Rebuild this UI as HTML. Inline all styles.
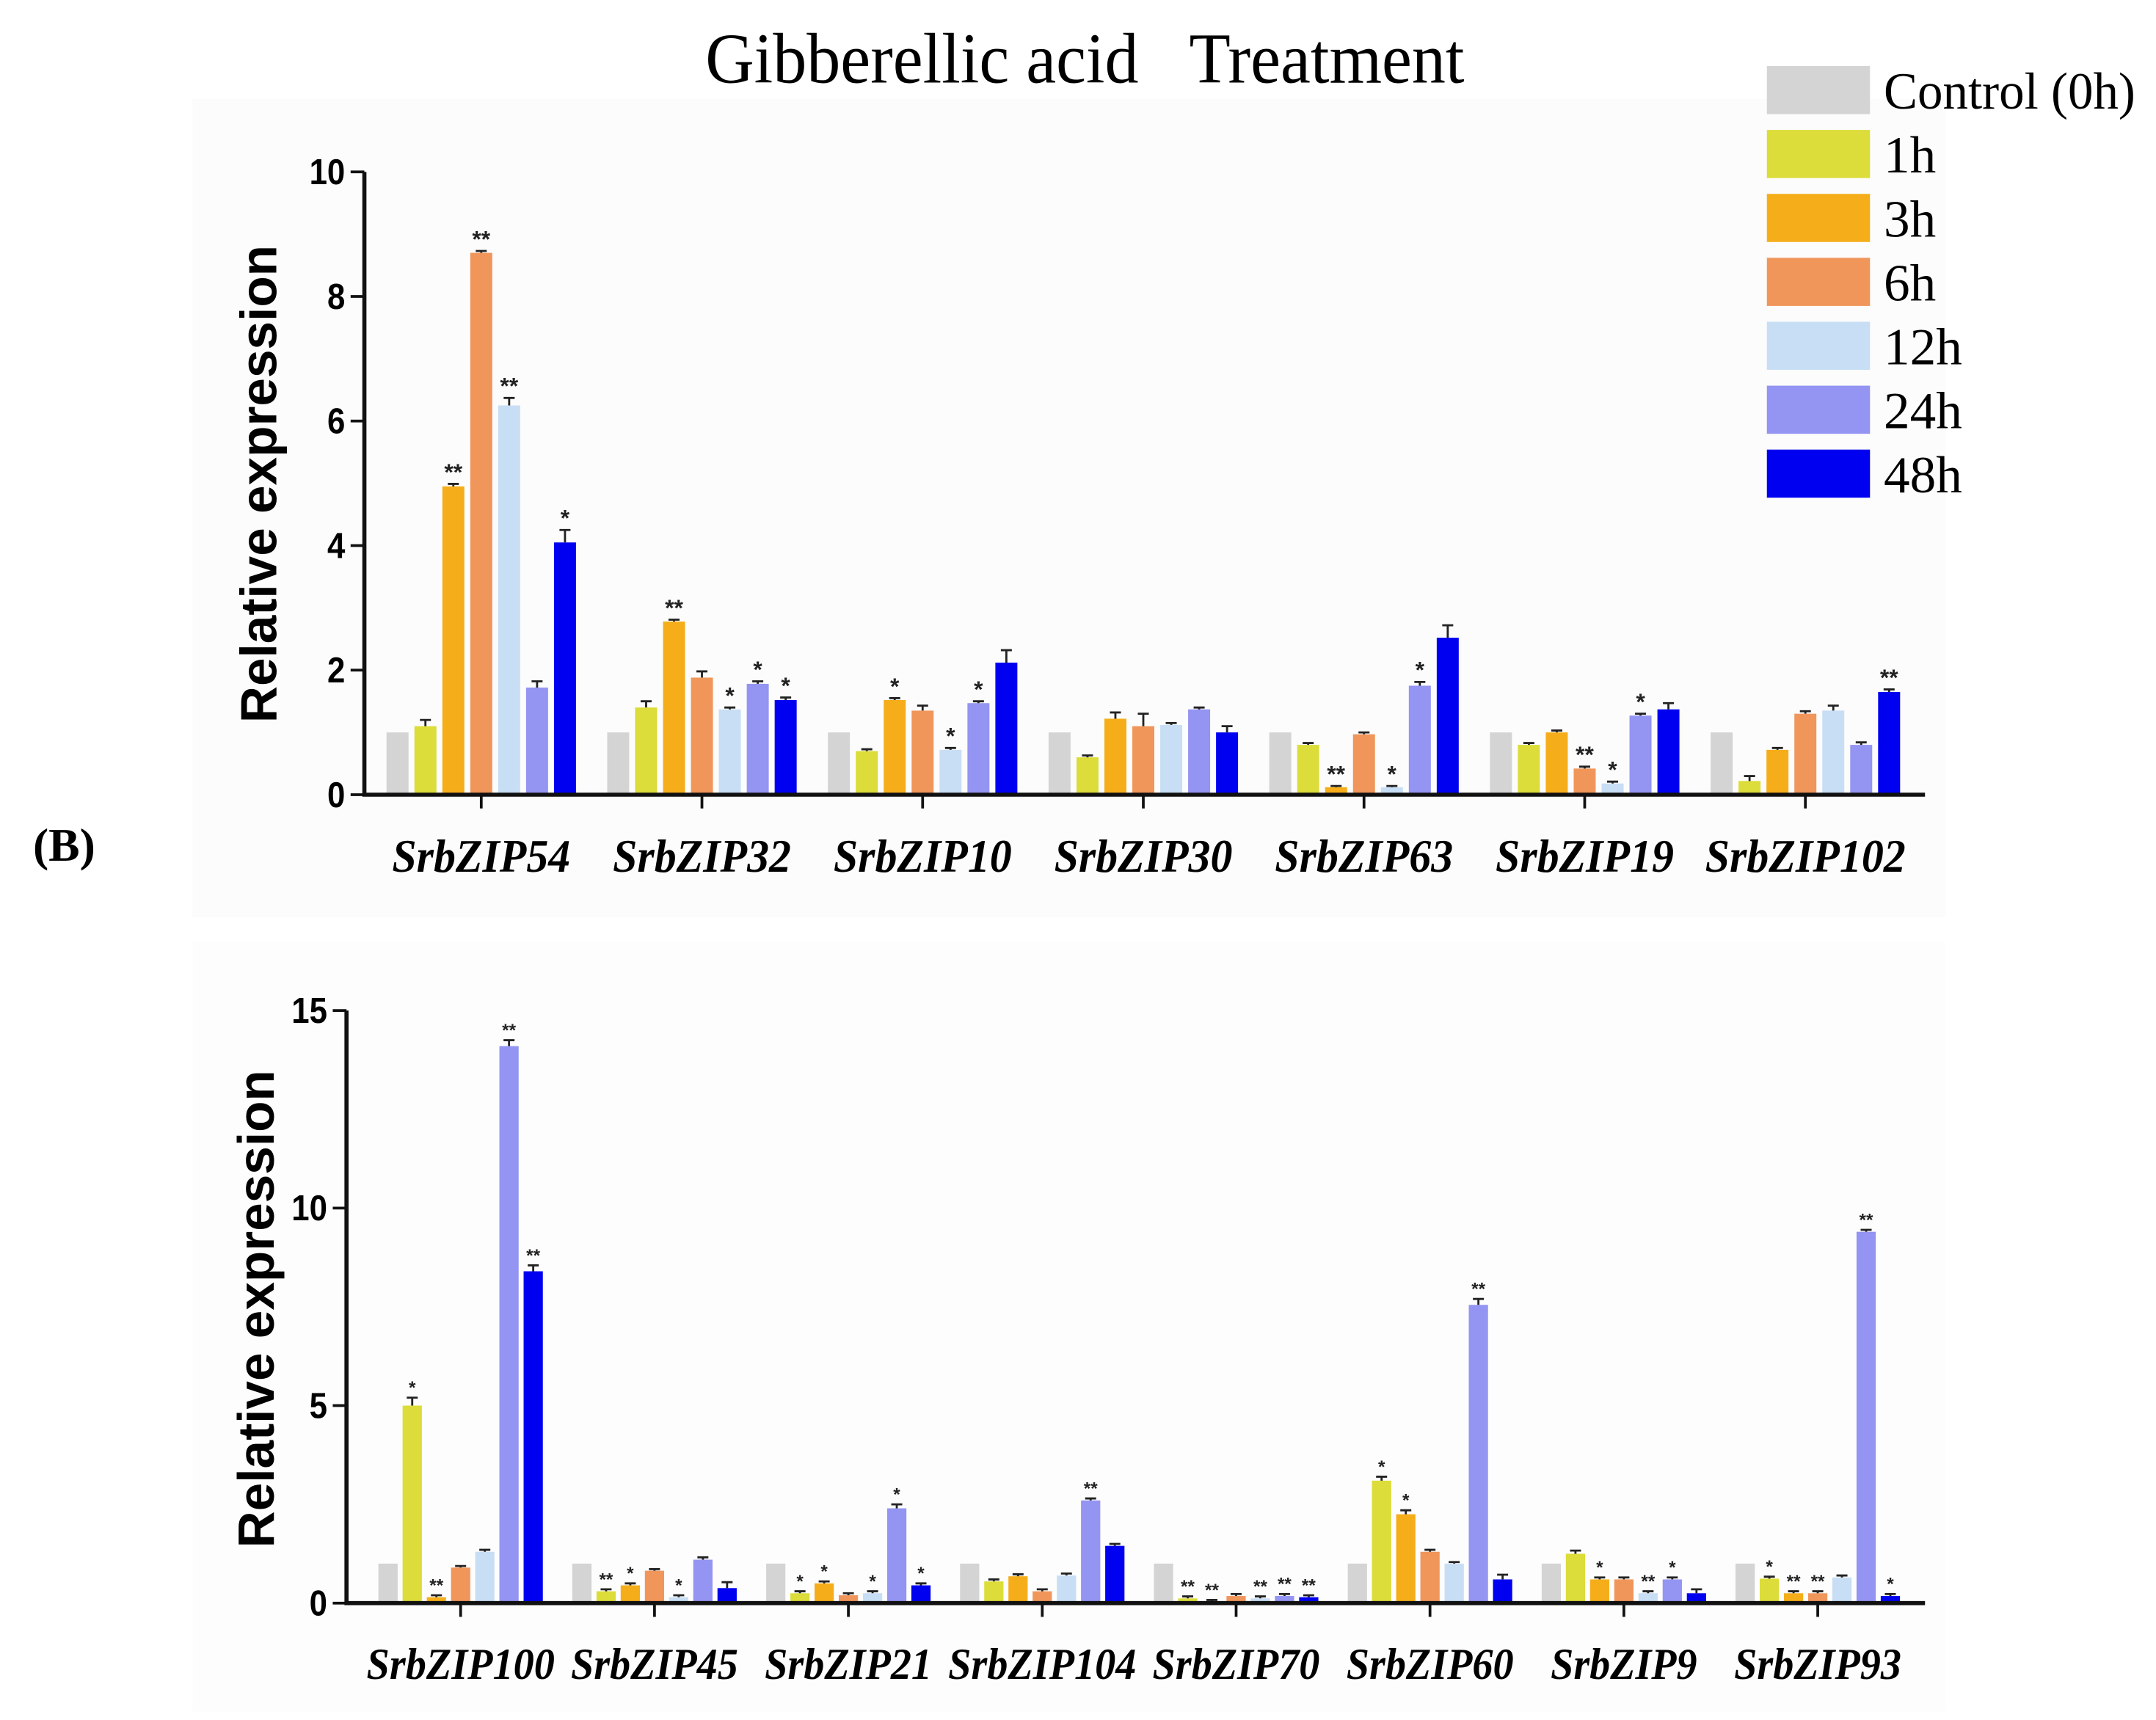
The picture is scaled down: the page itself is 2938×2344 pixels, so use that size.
<!DOCTYPE html>
<html><head><meta charset="utf-8"><style>
html,body{margin:0;padding:0;background:#fff;}
svg{display:block;}
.ax{font-family:"Liberation Sans",sans-serif;font-weight:bold;}
.ser{font-family:"Liberation Serif",serif;}
</style></head><body>
<svg id="chart" width="2938" height="2344" viewBox="0 0 1568 1251" preserveAspectRatio="none">
<rect x="0" y="0" width="1568" height="1251" fill="#fff"/>
<rect x="140" y="72" width="1275" height="595" fill="#fcfcfc"/>
<rect x="140" y="685" width="1275" height="560" fill="#fdfdfd"/>
<text x="513" y="60" textLength="552" lengthAdjust="spacingAndGlyphs" class="ser" font-size="52">Gibberellic acid&#160;&#160;&#160;Treatment</text>
<text x="24" y="626" class="ser" font-size="34" font-weight="bold">(B)</text>
<g id="legend"></g>
<g id="top"></g>
<g id="bottom"></g>
</svg>
<script>
const seriesNames = ["Control (0h)","1h","3h","6h","12h","24h","48h"];
const seriesColors = ["#d4d4d4","#dcdc3a","#f5ae1a","#f0965a","#c8def5","#9494f2","#0000f0"];
const topGenes = ["SrbZIP54","SrbZIP32","SrbZIP10","SrbZIP30","SrbZIP63","SrbZIP19","SrbZIP102"];
const topValues = [
 [1,1.1,4.95,8.7,6.25,1.72,4.05],
 [1,1.4,2.78,1.88,1.37,1.78,1.52],
 [1,0.7,1.52,1.35,0.72,1.47,2.12],
 [1,0.6,1.22,1.1,1.12,1.37,1.0],
 [1,0.8,0.12,0.97,0.12,1.75,2.52],
 [1,0.8,1.0,0.42,0.18,1.27,1.37],
 [1,0.22,0.72,1.3,1.35,0.8,1.65]];
const topErrors = [
 [0,0.1,0.04,0.03,0.12,0.1,0.2],
 [0,0.1,0.03,0.1,0.03,0.04,0.04],
 [0,0.03,0.03,0.08,0.03,0.03,0.2],
 [0,0.03,0.1,0.2,0.03,0.03,0.1],
 [0,0.03,0.02,0.03,0.02,0.06,0.2],
 [0,0.03,0.03,0.03,0.03,0.03,0.1],
 [0,0.08,0.03,0.04,0.08,0.04,0.04]];
const topStars = [
 ["","","**","**","**","","*"],
 ["","","**","","*","*","*"],
 ["","","*","","*","*",""],
 ["","","","","","",""],
 ["","","**","","*","*",""],
 ["","","","**","*","*",""],
 ["","","","","","","**"]];
const topTicks = [0,2,4,6,8,10];
const botGenes = ["SrbZIP100","SrbZIP45","SrbZIP21","SrbZIP104","SrbZIP70","SrbZIP60","SrbZIP9","SrbZIP93"];
const botValues = [
 [1,5.0,0.15,0.9,1.3,14.1,8.4],
 [1,0.3,0.45,0.82,0.15,1.1,0.38],
 [1,0.25,0.5,0.2,0.25,2.4,0.45],
 [1,0.55,0.68,0.3,0.7,2.6,1.45],
 [1,0.12,0.05,0.18,0.12,0.18,0.15],
 [1,3.1,2.25,1.3,1.0,7.55,0.6],
 [1,1.25,0.6,0.6,0.25,0.6,0.25],
 [1,0.62,0.25,0.25,0.65,9.4,0.18]];
const botErrors = [
 [0,0.2,0.05,0.04,0.05,0.15,0.15],
 [0,0.05,0.05,0.04,0.05,0.06,0.15],
 [0,0.05,0.05,0.05,0.05,0.1,0.05],
 [0,0.05,0.05,0.05,0.05,0.05,0.05],
 [0,0.05,0.03,0.05,0.05,0.05,0.05],
 [0,0.1,0.1,0.05,0.04,0.15,0.12],
 [0,0.08,0.05,0.05,0.05,0.05,0.1],
 [0,0.05,0.05,0.05,0.05,0.05,0.05]];
const botStars = [
 ["","*","**","","","**","**"],
 ["","**","*","","*","",""],
 ["","*","*","","*","*","*"],
 ["","","","","","**",""],
 ["","**","**","","**","**","**"],
 ["","*","*","","","**",""],
 ["","","*","","**","*",""],
 ["","*","**","**","","**","*"]];
const botTicks = [0,5,10,15];

const NS="http://www.w3.org/2000/svg";
function mk(parent,tag,attrs,text){const e=document.createElementNS(NS,tag);for(const k in attrs)e.setAttribute(k,attrs[k]);if(text!==undefined)e.textContent=text;parent.appendChild(e);return e;}

function drawChart(g,cfg){
  const {genes,values,errors,stars,ticks,x0,x1,y0,ymax,ytop,c0,pitch,barPitch,barW,labelY,fs,charW,starFs,ylabX,ylabY} = cfg;
  const ys=v=>y0-(v/ymax)*(y0-ytop);
  genes.forEach((gn,gi)=>{
    const cx=c0+gi*pitch;
    values[gi].forEach((v,si)=>{
      const bx=cx+(si-3)*barPitch-barW/2;
      const r=mk(g,'rect',{x:bx,y:ys(v),width:barW,height:y0-ys(v),fill:seriesColors[si]});
      
      
      const e=errors[gi][si];
      if(e>0){
        const ey=ys(v+e);
        const l=mk(g,'path',{d:`M${bx+barW/2} ${ys(v)} V${ey} M${bx+barW/2-4} ${ey} H${bx+barW/2+4}`,stroke:'#222','stroke-width':1.5,fill:'none'});
        
        
      }
      const s=stars[gi][si];
      if(s){
        const t=mk(g,'text',{x:bx+barW/2,y:ys(v+e)-3,'text-anchor':'middle','font-size':starFs,class:'ax',fill:'#222'},s);
        
        
      }
    });
    const tk=mk(g,'line',{x1:cx,x2:cx,y1:y0,y2:y0+10,stroke:'#111','stroke-width':2});
    
    
    const lb=mk(g,'text',{x:cx,y:labelY,'text-anchor':'middle','font-size':fs,'font-style':'italic','font-weight':'bold',class:'ser',textLength:charW*gn.length,lengthAdjust:'spacingAndGlyphs'},gn);
    
    
  });
  const ax=mk(g,'path',{d:`M${x0} ${ytop} V${y0} H${x1}`,stroke:'#111','stroke-width':3,fill:'none'});
  
  
  ticks.forEach(t=>{
    const y=ys(t);
    const l=mk(g,'line',{x1:x0-10,x2:x0,y1:y,y2:y,stroke:'#111','stroke-width':2});
    
    
    const tx=mk(g,'text',{x:x0-14,y:y+9,'text-anchor':'end','font-size':26,class:'ax',textLength:13*String(t).length,lengthAdjust:'spacingAndGlyphs'},String(t));
    
    
  });
  const yl=mk(g,'text',{x:ylabX,y:ylabY,'text-anchor':'middle','font-size':37,class:'ax',transform:`rotate(-90 ${ylabX} ${ylabY})`},'Relative expression');
  
  
}
drawChart(document.getElementById('top'),{genes:topGenes,values:topValues,errors:topErrors,stars:topStars,ticks:topTicks,
  x0:265,x1:1400,y0:578,ymax:10,ytop:125,c0:350,pitch:160.5,barPitch:20.3,barW:16,labelY:634,fs:34,charW:16.2,starFs:17,ylabX:201,ylabY:352});
drawChart(document.getElementById('bottom'),{genes:botGenes,values:botValues,errors:botErrors,stars:botStars,ticks:botTicks,
  x0:252,x1:1400,y0:1166,ymax:15,ytop:735,c0:335,pitch:141,barPitch:17.6,barW:14,labelY:1221,fs:32,charW:15.2,starFs:13,ylabX:199,ylabY:952});
const lg=document.getElementById('legend');
seriesNames.forEach((n,i)=>{
  const y=48+i*46.5;
  const r=mk(lg,'rect',{x:1285,y:y,width:75,height:35,fill:seriesColors[i]});
  
  
  const t=mk(lg,'text',{x:1370,y:y+31,'font-size':38,class:'ser'},n);
  if(i===0){t.setAttribute('textLength','183');t.setAttribute('lengthAdjust','spacingAndGlyphs');}
  
  
});
</script>
</body></html>
